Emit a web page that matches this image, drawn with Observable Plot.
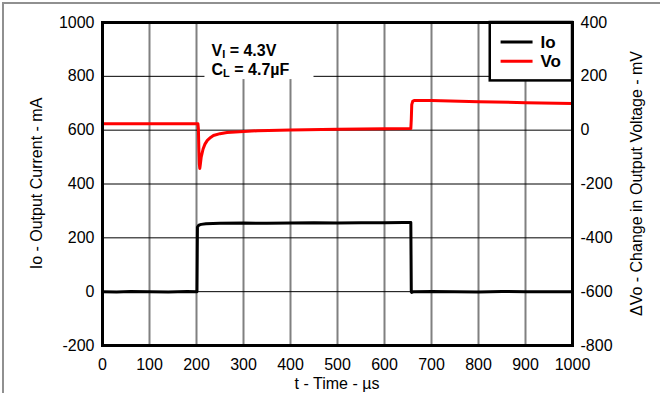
<!DOCTYPE html>
<html><head><meta charset="utf-8">
<script src="https://cdn.jsdelivr.net/npm/d3@7"></script>
<script src="https://cdn.jsdelivr.net/npm/@observablehq/plot@0.6"></script>
<style>
body{margin:0;background:#fff;}
#chart{width:660px;height:393px;}
</style></head><body><div id="chart"></div>
<script>
// Tick values
const xTicks = [0, 100, 200, 300, 400, 500, 600, 700, 800, 900, 1000];
const ioTicks = [-200, 0, 200, 400, 600, 800, 1000];
const voTicks = [-800, -600, -400, -200, 0, 200, 400];
const VO_OFFSET = 600; // 0 mV on the right axis sits at 600 mA on the left axis

// Io - output current (mA) vs time (µs)
const ioTime  = [0, 30, 60, 100, 140, 180, 201, 202, 205, 210, 220, 250, 300, 350, 400, 450, 500, 550, 600, 640, 656, 657, 658, 662, 700, 750, 800, 850, 900, 950, 1000];
const ioValue = [0, -1, 1,  0,   -1,  1,   0,   240, 247, 250, 252, 254, 255, 254, 255, 256, 255, 256, 256, 257, 257, 0,   -3,  0,   1,   0,   -1,  1,   0,   0,   0];

// ΔVo - change in output voltage (mV) vs time (µs)
const voTime  = [0,  203, 204, 205, 206,  207,  208,  210,  214, 218, 223, 230, 236, 250, 265, 300, 330, 400, 500, 600, 656, 657, 658, 660, 663, 700, 800, 900, 1000];
const voValue = [24, 24,  5,   -70, -125, -142, -130, -100, -70, -52, -38, -27, -20, -13, -9,  -5,  -2,  1,   3,   5,   6,   40,  95,  107, 110, 110, 106, 102, 99];

const legendNames = ["Io", "Vo"];
const legendColors = ["#000000", "#ff0000"];

const io = ioTime.map((t, i) => ({t, v: ioValue[i]}));
const vo = voTime.map((t, i) => ({t, v: voValue[i]}));
const legend = legendNames.map((name, i) => ({name, color: legendColors[i], row: i}));

const font = "'Liberation Sans', Arial, Helvetica, sans-serif";

const plot = Plot.plot({
  width: 660,
  height: 393,
  marginLeft: 102,
  marginRight: 88,
  marginTop: 22,
  marginBottom: 48,
  style: {fontFamily: font, fontSize: "16px", color: "#000", background: "white", overflow: "visible"},
  x: {domain: [0, 1000]},
  y: {domain: [-200, 1000]},
  marks: [
    Plot.ruleX(xTicks.slice(1, -1), {stroke: "#808080", strokeWidth: 2}),
    Plot.ruleY(ioTicks.slice(1, -1), {stroke: "#000", strokeWidth: 1}),
    Plot.link(legend, {x1: () => 847, x2: () => 915, y1: d => 928 - d.row * 72, y2: d => 928 - d.row * 72, stroke: d => d.color, strokeWidth: 3}),
    Plot.text(legend, {x: () => 932, y: d => 926 - d.row * 72, text: "name", textAnchor: "start", fontWeight: "bold", fontSize: 17, fill: "#000"}),
    Plot.line(vo, {x: "t", y: d => d.v + VO_OFFSET, stroke: "#ff0000", strokeWidth: 3}),
    Plot.line(io, {x: "t", y: "v", stroke: "#000", strokeWidth: 3}),
    Plot.frame({stroke: "#000", strokeWidth: 3}),
    Plot.axisX({ticks: xTicks, tickSize: 0, tickPadding: 13, tickFormat: d => String(d), label: null}),
    Plot.axisY({ticks: ioTicks, tickSize: 0, tickPadding: 8, tickFormat: d => String(d), label: null}),
    Plot.axisY({anchor: "right", ticks: ioTicks, tickFormat: (d, i) => String(voTicks[i]), tickSize: 0, tickPadding: 8, label: null})
  ]
});

document.getElementById("chart").appendChild(plot);

const svg = d3.select(plot);
const xs = plot.scale("x"), ys = plot.scale("y");
const X = v => xs.apply(v), Y = v => ys.apply(v);

// boxes placed just after the grid rules (before legend/line marks)
const firstLink = plot.querySelector("g[aria-label='link']");
function insertRect() {
  const r = document.createElementNS("http://www.w3.org/2000/svg", "rect");
  if (firstLink) plot.insertBefore(r, firstLink); else plot.appendChild(r);
  return d3.select(r);
}
// white box behind the condition annotation
insertRect().attr("x", X(218)).attr("y", Y(1000) + 2).attr("width", X(450) - X(218)).attr("height", Y(788) - Y(1000) - 2).attr("fill", "white");
// legend box
insertRect().attr("x", X(825)).attr("y", Y(1000)).attr("width", X(1000) - X(825)).attr("height", Y(783) - Y(1000)).attr("fill", "white").attr("stroke", "#000").attr("stroke-width", 2.5);

// Condition annotation with subscripts
const ann = svg.append("g").attr("font-family", font).attr("font-weight", "bold").attr("font-size", 16).attr("fill", "#000").attr("text-anchor", "start");
const line1 = ann.append("text").attr("x", X(233)).attr("y", Y(897)).attr("dominant-baseline", "central");
line1.append("tspan").text("V");
line1.append("tspan").attr("font-size", 11).attr("dy", 4).text("I");
line1.append("tspan").attr("dy", -4).text(" = 4.3V");
const line2 = ann.append("text").attr("x", X(233)).attr("y", Y(825)).attr("dominant-baseline", "central");
line2.append("tspan").text("C");
line2.append("tspan").attr("font-size", 11).attr("dy", 4).text("L");
line2.append("tspan").attr("dy", -4).text(" = 4.7µF");

// Axis titles
const titles = svg.append("g").attr("font-family", font).attr("font-size", 16).attr("fill", "#000").attr("text-anchor", "middle");
const midY = (Y(1000) + Y(-200)) / 2;
titles.append("text").attr("transform", `translate(36,${midY}) rotate(-90)`).attr("dominant-baseline", "central").text("Io - Output Current - mA");
titles.append("text").attr("transform", `translate(636,${midY}) rotate(-90)`).attr("dominant-baseline", "central").text("ΔVo - Change in Output Voltage - mV");
titles.append("text").attr("x", (X(0) + X(1000)) / 2).attr("y", 383).attr("dominant-baseline", "central").text("t - Time - µs");

// outer page border (top and left)
svg.append("path").attr("d", "M3,393V3H660").attr("fill", "none").attr("stroke", "#909090").attr("stroke-width", 2);
</script>
</body></html>
